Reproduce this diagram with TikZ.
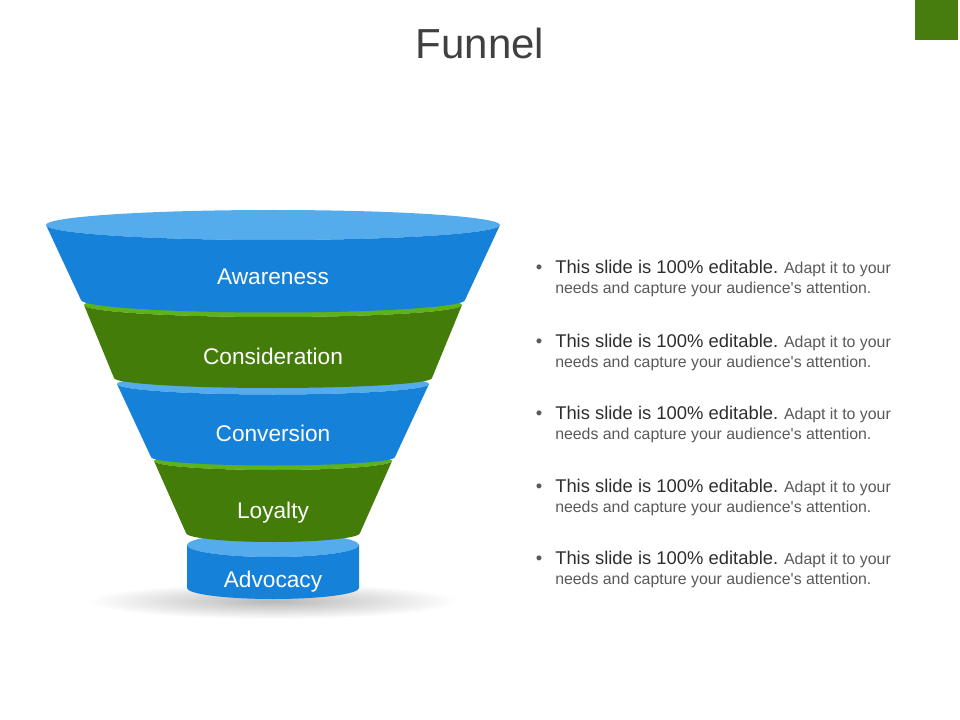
\documentclass[tikz,border=0pt]{standalone}
\usepackage{fontspec}
\setmainfont{Liberation Sans}
\usepackage{xcolor}
\usepackage{tikz}
\definecolor{bodyblue}{RGB}{21, 129, 216}
\definecolor{rimblue}{RGB}{84, 172, 236}
\definecolor{bodygreen}{RGB}{67, 124, 9}
\definecolor{rimgreen}{RGB}{94, 178, 26}
\definecolor{cornergreen}{RGB}{71, 125, 14}
\definecolor{titlegray}{RGB}{64, 64, 64}
\definecolor{textdark}{RGB}{45, 45, 45}
\definecolor{textgray}{RGB}{89, 89, 89}

\begin{document}
\begin{tikzpicture}[
    x=0.75pt, y=-0.75pt,
    stage/.style={text=white, font=\fontsize{17}{20}\selectfont, anchor=base},
    note/.style={anchor=base west, align=left, inner sep=0pt, text=textgray, font=\fontsize{11.9}{15}\selectfont},
    dot/.style={anchor=base, inner sep=0pt, text=textgray, font=\fontsize{13.8}{15}\selectfont}
]
    \useasboundingbox (0,0) rectangle (960,720);

    % Corner mark and title
    \fill[cornergreen] (915,0) rectangle (958,40);
    \node[font=\fontsize{31.5}{36}\selectfont, text=titlegray, anchor=base] (title) at (480,59) {Funnel};

    % Shadow
    \shade[inner color=black!28, outer color=white] (273,601) ellipse [x radius=185, y radius=18];

    % Advocacy
    \fill[rimblue] (273,545) ellipse [x radius=86, y radius=12];
    \fill[bodyblue] (187,545) -- (187,588) arc[start angle=180, end angle=0, x radius=86, y radius=11]
        -- (359,545) arc[start angle=0, end angle=180, x radius=86, y radius=12] -- cycle;

    % Loyalty
    \fill[rimgreen] (273,461) ellipse [x radius=119, y radius=9];
    \fill[bodygreen] (154,461) -- (186,533) arc[start angle=180, end angle=0, x radius=87, y radius=9]
        -- (392,461) arc[start angle=0, end angle=180, x radius=119, y radius=9] -- cycle;

    % Conversion
    \fill[rimblue] (273,384) ellipse [x radius=156, y radius=10.5];
    \fill[bodyblue] (117,384) -- (151,457) arc[start angle=180, end angle=0, x radius=122, y radius=8.5]
        -- (429,384) arc[start angle=0, end angle=180, x radius=156, y radius=10.5] -- cycle;

    % Consideration
    \fill[rimgreen] (273,305) ellipse [x radius=189, y radius=12];
    \fill[bodygreen] (84,305) -- (114,378) arc[start angle=180, end angle=0, x radius=159, y radius=10]
        -- (462,305) arc[start angle=0, end angle=180, x radius=189, y radius=12] -- cycle;

    % Awareness
    \fill[rimblue] (273,225) ellipse [x radius=227, y radius=15];
    \fill[bodyblue] (46,225) -- (81,300) arc[start angle=180, end angle=0, x radius=192, y radius=12.5]
        -- (500,225) arc[start angle=0, end angle=180, x radius=227, y radius=15] -- cycle;

    % Stage labels
    \node[stage] (aware) at (273,285) {Awareness};
    \node[stage] (consid) at (273,364) {Consideration};
    \node[stage] (conv) at (273,441) {Conversion};
    \node[stage] (loyal) at (273,518) {Loyalty};
    \node[stage] (advoc) at (273,587) {Advocacy};

    % Notes (anchored at the baseline of the second line)
    \node[dot] (d1) at (539,274) {•};
    \node[note] (n1) at (555,294) {{\color{textdark}\fontsize{13.8}{15}\selectfont This slide is 100\% editable.} Adapt it to your\\needs and capture your audience\textquotesingle s attention.};
    \node[dot] (d2) at (539,347) {•};
    \node[note] (n2) at (555,367) {{\color{textdark}\fontsize{13.8}{15}\selectfont This slide is 100\% editable.} Adapt it to your\\needs and capture your audience\textquotesingle s attention.};
    \node[dot] (d3) at (539,419) {•};
    \node[note] (n3) at (555,439) {{\color{textdark}\fontsize{13.8}{15}\selectfont This slide is 100\% editable.} Adapt it to your\\needs and capture your audience\textquotesingle s attention.};
    \node[dot] (d4) at (539,492) {•};
    \node[note] (n4) at (555,512) {{\color{textdark}\fontsize{13.8}{15}\selectfont This slide is 100\% editable.} Adapt it to your\\needs and capture your audience\textquotesingle s attention.};
    \node[dot] (d5) at (539,564) {•};
    \node[note] (n5) at (555,584) {{\color{textdark}\fontsize{13.8}{15}\selectfont This slide is 100\% editable.} Adapt it to your\\needs and capture your audience\textquotesingle s attention.};

\end{tikzpicture}
\end{document}
